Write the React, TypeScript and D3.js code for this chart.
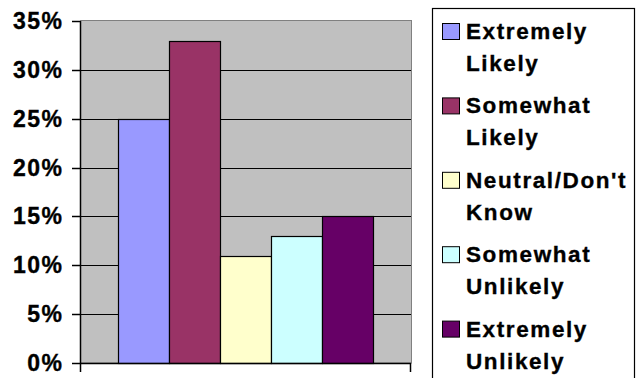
import React from "react";
import * as d3 from "d3";

// Survey response shares, one bar per answer
const categories = [
  "Extremely Likely",
  "Somewhat Likely",
  "Neutral/Don't Know",
  "Somewhat Unlikely",
  "Extremely Unlikely",
];
const values = [0.25, 0.33, 0.11, 0.13, 0.15];
const colors = ["#9999FF", "#993366", "#FFFFCC", "#CCFFFF", "#660066"];
const legendLines = [
  ["Extremely", "Likely"],
  ["Somewhat", "Likely"],
  ["Neutral/Don't", "Know"],
  ["Somewhat", "Unlikely"],
  ["Extremely", "Unlikely"],
];
const yTicks = [0, 0.05, 0.1, 0.15, 0.2, 0.25, 0.3, 0.35];

const W = 636;
const H = 378;
const plot = { left: 80, right: 411, top: 21, bottom: 363 };
const FONT = "'Liberation Sans', Arial, sans-serif";

export default function App() {
  const y = d3.scaleLinear().domain([0, 0.35]).range([plot.bottom, plot.top]);
  const group = d3
    .scaleBand<string>()
    .domain(["all"])
    .range([plot.left, plot.right])
    .paddingInner(0)
    .paddingOuter(0.15);
  const x = d3
    .scaleBand<string>()
    .domain(categories)
    .range([group("all")!, group("all")! + group.bandwidth()])
    .padding(0);
  const pct = d3.format(".0%");

  const legend = { x: 432.5, y: 8.5, itemStep: 74.4, lineStep: 32, firstBase: 39 };

  return (
    <svg
      width={W}
      height={H}
      style={{ position: "absolute", left: 0, top: 0, background: "#fff" }}
      fontFamily={FONT}
      fontWeight="bold"
    >
      {/* plot area */}
      <rect
        x={plot.left + 0.5}
        y={plot.top - 0.5}
        width={plot.right - plot.left}
        height={plot.bottom - plot.top + 0.5}
        fill="#C0C0C0"
        stroke="#808080"
        strokeWidth={1}
      />
      {/* gridlines */}
      {yTicks.slice(1, -1).map((t) => (
        <line
          key={"g" + t}
          x1={plot.left}
          x2={plot.right}
          y1={Math.round(y(t)) + 0.5}
          y2={Math.round(y(t)) + 0.5}
          stroke="#000"
          strokeWidth={1}
        />
      ))}
      {/* bars */}
      {categories.map((c, i) => {
        const x0 = Math.round(x(c)!) + 0.5;
        const x1 = Math.round(x(c)! + x.bandwidth()) + 0.5;
        const y0 = Math.round(y(values[i])) + 0.5;
        return (
          <rect
            key={c}
            x={x0}
            y={y0}
            width={x1 - x0}
            height={Math.round(y(0)) + 0.5 - y0}
            fill={colors[i]}
            stroke="#000"
            strokeWidth={1.2}
          />
        );
      })}
      {/* value axis */}
      <line
        x1={plot.left + 0.5}
        x2={plot.left + 0.5}
        y1={plot.top}
        y2={plot.bottom + 9}
        stroke="#000"
        strokeWidth={1.5}
      />
      {yTicks.map((t) => (
        <g key={"t" + t}>
          <line
            x1={plot.left - 8}
            x2={plot.left}
            y1={Math.round(y(t)) + 0.5}
            y2={Math.round(y(t)) + 0.5}
            stroke="#000"
            strokeWidth={1.5}
          />
          <text
            x={62 + 1.5}
            y={y(t) + 8}
            textAnchor="end"
            fontSize={23}
            letterSpacing={1.5}
            fill="#000"
            stroke="#000"
            strokeWidth={0.35}
          >
            {pct(t)}
          </text>
        </g>
      ))}
      {/* category axis */}
      <line
        x1={plot.left}
        x2={plot.right}
        y1={Math.round(y(0)) + 0.5}
        y2={Math.round(y(0)) + 0.5}
        stroke="#000"
        strokeWidth={1.5}
      />
      <line
        x1={plot.right - 0.5}
        x2={plot.right - 0.5}
        y1={plot.bottom}
        y2={plot.bottom + 9}
        stroke="#000"
        strokeWidth={1.5}
      />
      {/* legend */}
      <rect
        x={legend.x}
        y={legend.y}
        width={W - 1.5 - legend.x}
        height={H + 10}
        fill="#fff"
        stroke="#000"
        strokeWidth={1.2}
      />
      {legendLines.map((lines, i) => {
        const base = legend.firstBase + i * legend.itemStep;
        return (
          <g key={"l" + i}>
            <rect
              x={442.5}
              y={base - 15.5}
              width={17}
              height={16}
              fill={colors[i]}
              stroke="#000"
              strokeWidth={1}
            />
            {lines.map((s, j) => (
              <text
                key={j}
                x={466}
                y={base + j * legend.lineStep}
                fontSize={22.5}
                letterSpacing={1.6}
                fill="#000"
                stroke="#000"
                strokeWidth={0.35}
              >
                {s}
              </text>
            ))}
          </g>
        );
      })}
    </svg>
  );
}
